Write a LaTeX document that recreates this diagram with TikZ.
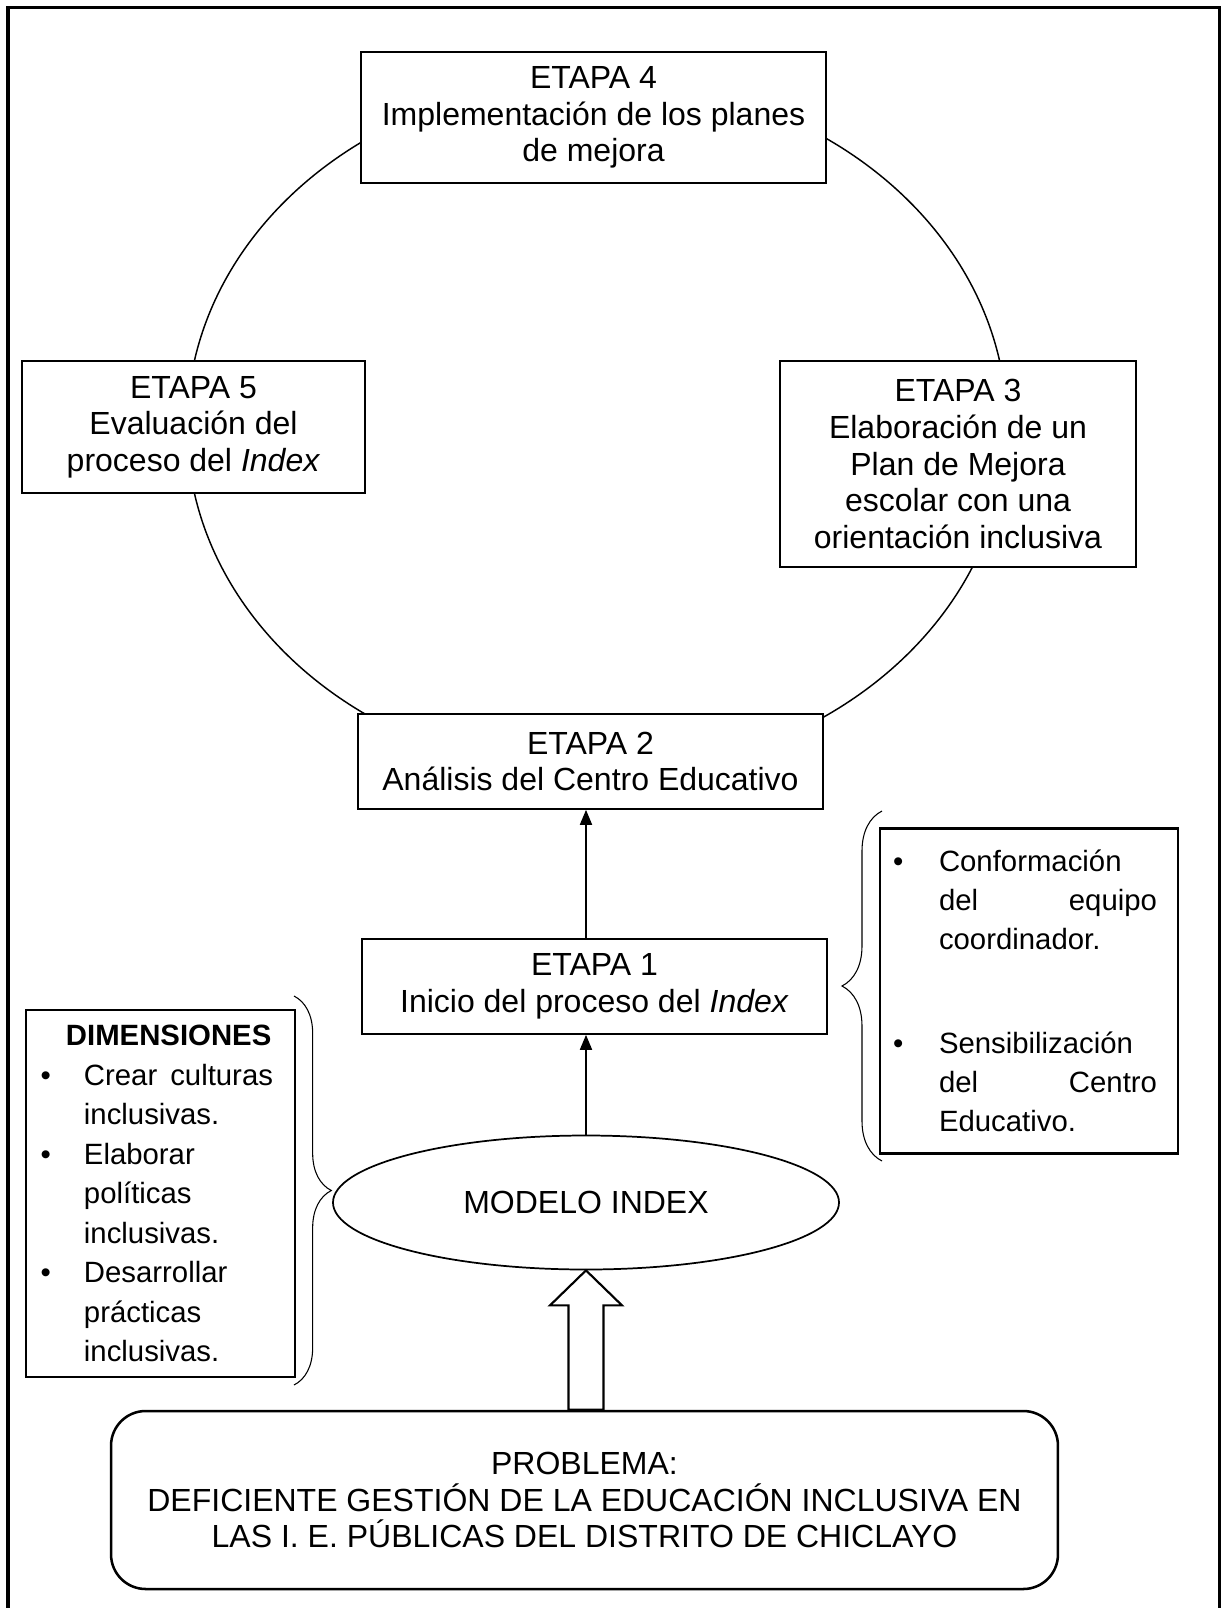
\documentclass[tikz,border=0pt]{standalone}
\usepackage{fontspec}
\setmainfont{Liberation Sans}
\usetikzlibrary{shapes.geometric,arrows.meta,calc,decorations.pathreplacing}
\begin{document}
\begin{tikzpicture}[x=0.375pt,y=-0.375pt,
  stage/.style={draw,line width=0.65pt,fill=white,align=center,inner sep=0pt,
    font=\fontsize{12}{13.75}\selectfont},
  listbox/.style={draw,line width=1pt,fill=white,align=left,inner sep=0pt,
    font=\fontsize{11}{14.8}\selectfont},
  bracestyle/.style={draw,line width=0.4pt,decorate,decoration={brace,amplitude=#1}},
  uparrow/.style={line width=0.65pt,-{Triangle[length=5.6pt,width=4.5pt]}},
  hollow/.style={draw,line width=0.8pt,fill=white,line join=miter}]
\useasboundingbox (0,0) rectangle (1222,1608);
% outer frame
\coordinate (fbl) at (8,1608);
\coordinate (ftl) at (8,7.5);
\coordinate (ftr) at (1219.5,7.5);
\coordinate (fbr) at (1219.5,1608);
\draw[line width=1.4pt] (fbl) -- (ftl) -- (ftr) -- (fbr);
% cycle ring
\node[draw,ellipse,line width=0.55pt,inner sep=0pt,minimum width=307.5pt,minimum height=261pt] (ring) at (597,427) {};
% stages
\node[stage,minimum width=174.4pt,minimum height=49.1pt] (e4) at (593.5,117.5)
  {ETAPA 4\\Implementación de los planes\\de mejora};
\node[stage,minimum width=128.6pt,minimum height=49.5pt] (e5) at (193.5,427)
  {ETAPA 5\\Evaluación del\\proceso del \textit{Index}};
\node[stage,minimum width=133.5pt,minimum height=77.25pt] (e3) at (958,464)
  {ETAPA 3\\Elaboración de un\\Plan de Mejora\\escolar con una\\orientación inclusiva};
\node[stage,minimum width=174.4pt,minimum height=35.6pt] (e2) at (590.5,761.5)
  {ETAPA 2\\Análisis del Centro Educativo};
\node[stage,minimum width=174.4pt,minimum height=35.6pt] (e1) at (594.5,986.5)
  {ETAPA 1\\Inicio del proceso del \textit{Index}};
% model
\node[draw,ellipse,line width=0.65pt,fill=white,inner sep=0pt,minimum width=189.75pt,minimum height=50.25pt,
  font=\fontsize{12}{13.75}\selectfont] (model) at (586,1202.5) {MODELO INDEX};
% problem
\node[draw,line width=0.95pt,rounded corners=13pt,fill=white,align=center,inner sep=0pt,
  minimum width=355.1pt,minimum height=66.75pt,font=\fontsize{12}{13.75}\selectfont] (prob) at (584.5,1500)
  {PROBLEMA:\\DEFICIENTE GESTIÓN DE LA EDUCACIÓN INCLUSIVA EN\\LAS I. E. PÚBLICAS DEL DISTRITO DE CHICLAYO};
% arrows
\draw[uparrow] (model.north) -- (model.north |- e1.south);
\draw[uparrow] (e1.north -| model.north) -- (e2.south -| model.north);
\path[hollow] (model.south)
  -- ($(model.south)+(36,35)$) -- ($(model.south)+(17.5,35)$)
  -- ($(model.south |- prob.north)+(17.5,0)$) -- ($(model.south |- prob.north)+(-17.5,0)$)
  -- ($(model.south)+(-17.5,35)$) -- ($(model.south)+(-36,35)$) -- cycle;
% activities box
\node[listbox,minimum width=111.75pt,minimum height=121.9pt,text width=102pt,
  font=\fontsize{11}{14.6}\selectfont] (acts) at (1029,991) {%
\makebox[17.25pt][l]{\textbullet}Conformación\\
\hspace*{17.25pt}\makebox[81.75pt][l]{del\hfill equipo}\\
\hspace*{17.25pt}coordinador.\\[24.4pt]
\makebox[17.25pt][l]{\textbullet}Sensibilización\\
\hspace*{17.25pt}\makebox[81.75pt][l]{del\hfill Centro}\\
\hspace*{17.25pt}Educativo.};
% dimensions box
\node[listbox,minimum width=100.9pt,minimum height=137.6pt,text width=91.9pt] (dims) at (160.5,1193.5) {%
\hspace*{10.5pt}\textbf{DIMENSIONES}\\
\makebox[17.25pt][l]{\hspace*{1pt}\textbullet}\makebox[70.9pt][l]{Crear\hfill culturas}\\
\hspace*{17.25pt}inclusivas.\\
\makebox[17.25pt][l]{\hspace*{1pt}\textbullet}Elaborar\\
\hspace*{17.25pt}políticas\\
\hspace*{17.25pt}inclusivas.\\
\makebox[17.25pt][l]{\hspace*{1pt}\textbullet}Desarrollar\\
\hspace*{17.25pt}prácticas\\
\hspace*{17.25pt}inclusivas.};
% braces
\coordinate (rbt) at (882,811);
\coordinate (rbb) at (882,1161);
\draw[bracestyle=15pt] (rbb) -- (rbt);
\coordinate (lbt) at (294,996);
\coordinate (lbb) at (294,1385);
\draw[bracestyle=14pt] (lbt) -- (lbb);
\end{tikzpicture}
\end{document}
